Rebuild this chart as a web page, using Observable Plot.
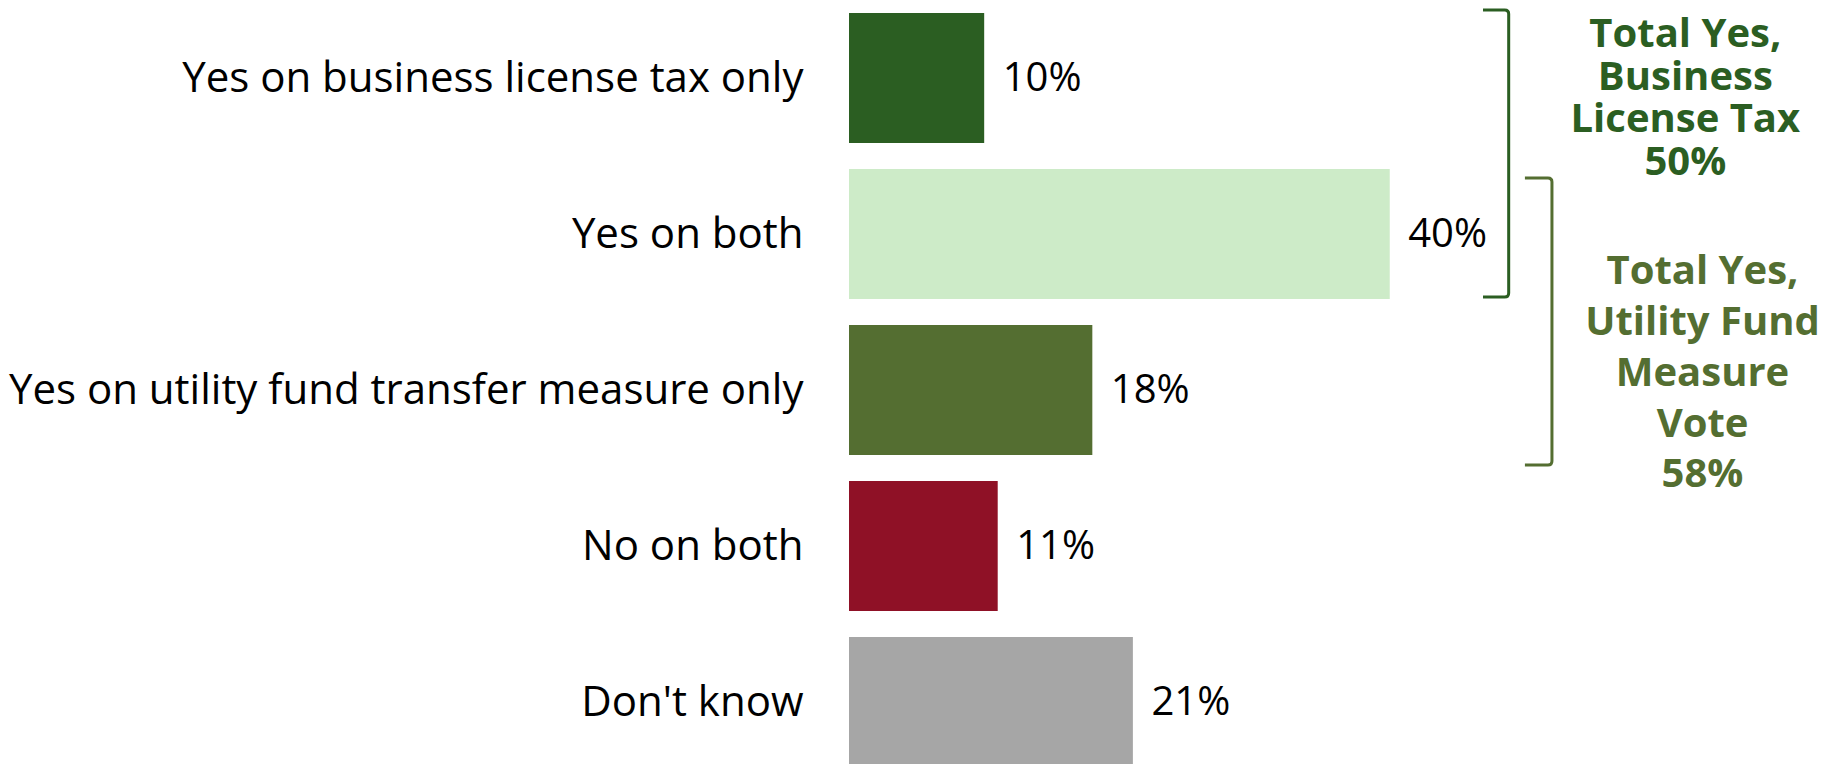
<!DOCTYPE html>
<html>
<head>
<meta charset="utf-8">
<script src="https://cdn.jsdelivr.net/npm/d3@7"></script>
<script src="https://cdn.jsdelivr.net/npm/@observablehq/plot@0.6"></script>
<style>
  html, body { margin: 0; padding: 0; background: #fff; overflow: hidden; }
</style>
</head>
<body>
<div id="chart"></div>
<script>
// ---- data ----
const categories = [
  "Yes on business license tax only",
  "Yes on both",
  "Yes on utility fund transfer measure only",
  "No on both",
  "Don't know"
];
const values = [10, 40, 18, 11, 21];
const barColors = ["#2B5E22", "#CDEBC8", "#546E31", "#8F1126", "#A6A6A6"];

const totalLabels = ["Total Yes,\nBusiness\nLicense Tax\n50%", "Total Yes,\nUtility Fund\nMeasure\nVote\n58%"];
const totalColors = ["#2B5E22", "#546E31"];

const rows = categories.map((c, i) => ({label: c, value: values[i], color: barColors[i]}));

const FONT = "'Open Sans', 'Noto Sans', sans-serif";

const plot = Plot.plot({
  width: 1843,
  height: 764,
  marginLeft: 849,
  marginRight: 0,
  marginTop: 0,
  marginBottom: 0,
  style: {fontFamily: FONT, fontSize: "42px", color: "#000", background: "#fff", overflow: "hidden"},
  x: {domain: [0, 73.53], axis: null},
  y: {domain: categories, range: [0, 779], paddingInner: 0.168, paddingOuter: 0.077,
      tickSize: 0, tickPadding: 46, label: null},
  marks: [
    Plot.barX(rows, {x: "value", y: "label", fill: "color"}),
    Plot.text(rows, {x: "value", y: "label", text: d => d.value + "%", dx: 18,
      textAnchor: "start", fontSize: 40, fill: "#000"}),
    Plot.text([totalLabels[0]], {x: () => 61.83, y: () => categories[0], text: d => d,
      dy: 19, fill: totalColors[0], fontWeight: "bold", fontSize: 40, lineHeight: 1.06,
      textAnchor: "middle"}),
    Plot.text([totalLabels[1]], {x: () => 63.1, y: () => categories[2], text: d => d,
      dy: -21, fill: totalColors[1], fontWeight: "bold", fontSize: 40, lineHeight: 1.27,
      textAnchor: "middle"})
  ]
});

// brackets drawn with the plot's own scales
const xs = plot.scale("x");
const ys = plot.scale("y");
const bw = ys.bandwidth;
const svg = d3.select(plot.tagName.toLowerCase() === "svg" ? plot : plot.querySelector("svg"));
function bracket(xLeft, xRight, yTop, yBottom, color) {
  const x1 = xs.apply(xLeft), x2 = xs.apply(xRight), r = 4;
  const p = d3.path();
  p.moveTo(x1, yTop);
  p.lineTo(x2 - r, yTop);
  p.quadraticCurveTo(x2, yTop, x2, yTop + r);
  p.lineTo(x2, yBottom - r);
  p.quadraticCurveTo(x2, yBottom, x2 - r, yBottom);
  p.lineTo(x1, yBottom);
  svg.append("path").attr("d", p.toString()).attr("fill", "none")
    .attr("stroke", color).attr("stroke-width", 3);
}
bracket(46.9, 48.8, ys.apply(categories[0]) - 3, ys.apply(categories[1]) + bw - 2, totalColors[0]);
bracket(50.0, 52.0, ys.apply(categories[1]) + 9, ys.apply(categories[2]) + bw + 10, totalColors[1]);

document.getElementById("chart").appendChild(plot);
</script>
</body>
</html>
